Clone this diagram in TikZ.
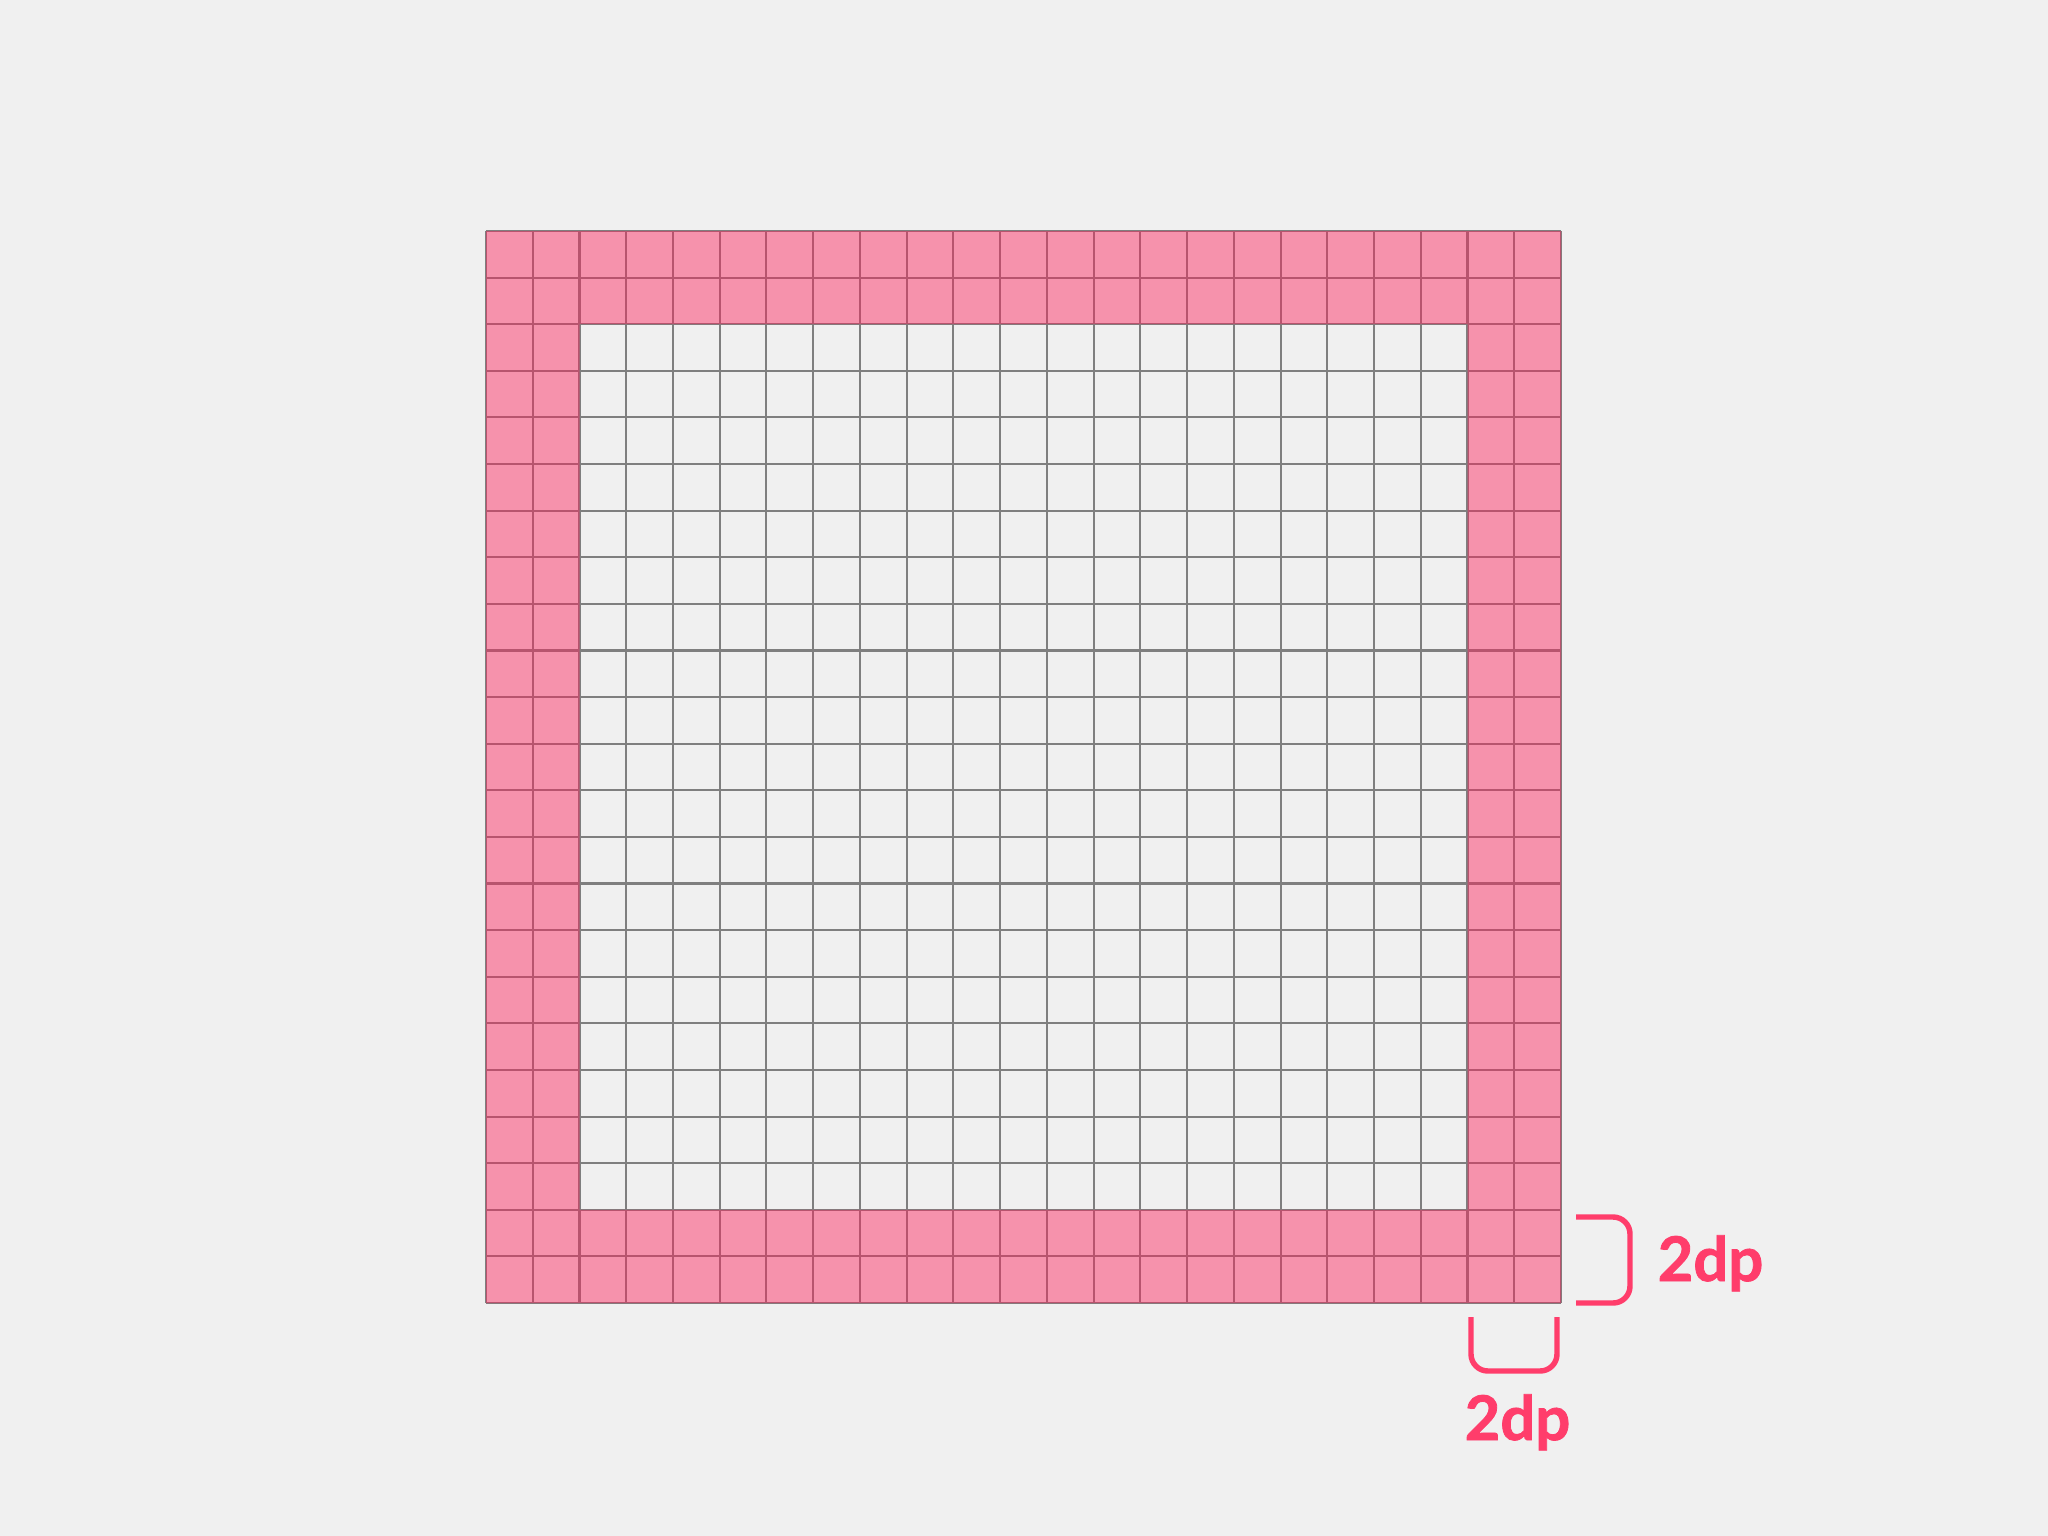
\documentclass[tikz,border=0pt]{standalone}
\usepackage{fontspec}
\setsansfont{Lato}[BoldFeatures={FakeBold=1.3}]
\definecolor{bgcol}{HTML}{F0F0F0}
\definecolor{gridcol}{HTML}{7F7F7F}
\definecolor{bandcol}{HTML}{FF215A}
\definecolor{markcol}{HTML}{FF3D6B}
\begin{document}
\begin{tikzpicture}[x=0.01cm, y=-0.01cm,
	gridline/.style={draw=gridcol, line width=0.6pt},
	bracket/.style={draw=markcol, line width=1.55pt, rounded corners=4.8pt},
	dplabel/.style={font=\sffamily\bfseries\fontsize{17.5}{19}\selectfont, text=markcol, inner sep=0pt, anchor=base west}]
				% Background
				\fill[bgcol] (0,0) rectangle (2048,1536);
				\useasboundingbox (0,0) rectangle (2048,1536);
				
				% Grid of 23 x 23 cells
				\foreach \i in {0,...,23} {
					\draw[gridline] ({486+\i*46.739},231) -- ({486+\i*46.739},1303);
					\draw[gridline] (486,{231+\i*46.609}) -- (1561,{231+\i*46.609});
				}
				
				% Pink border band, two cells wide
				\fill[bandcol, opacity=0.45, even odd rule] (486,231) rectangle (1561,1303) (579.5,324.2) rectangle (1467.5,1209.8);
				
				% Right bracket
				\coordinate (rtop) at (1576,1217);
				\coordinate (rbot) at (1576,1303);
				\draw[bracket] (rtop) -- (1630,1217) -- (1630,1303) -- (rbot);
				\node[dplabel] (rightlbl) at (1657,1281) {2dp};
				
				% Bottom bracket
				\coordinate (bleft) at (1471,1317);
				\coordinate (bright) at (1557,1317);
				\draw[bracket] (bleft) -- (1471,1371) -- (1557,1371) -- (bright);
				\node[dplabel] (bottomlbl) at (1464,1440) {2dp};
			\end{tikzpicture}
\end{document}
